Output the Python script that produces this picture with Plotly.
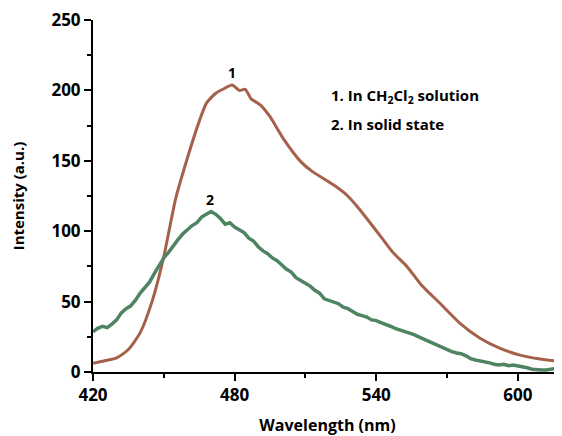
import plotly.graph_objects as go

# curve 1: in CH2Cl2 solution
wl_solution = [420, 425, 430, 435, 440, 445, 450, 455, 460, 465, 468, 472, 475,
               479, 482, 484.5, 487, 491, 495, 501, 508, 513, 522, 527.5, 532,
               536, 542, 547, 553, 559, 567, 575.5, 584, 592.5, 601, 609.4, 619]
int_solution = [6.2, 8, 10, 16, 28, 50, 82, 123, 152, 178, 190.8, 198, 200.8,
                203.8, 200, 200.8, 194, 189.6, 181.3, 164.8, 149.4, 142.3, 132.8, 125.7, 117.4,
                109, 96, 85, 75, 62, 48.8, 34.6, 24, 16.8, 12, 9.2, 7.3]

# curve 2: solid state
wl_solid = [420, 422, 424, 426, 428, 430, 432, 434, 436, 438, 440, 442, 444, 446,
            448, 450, 452, 454, 456, 458, 460, 462, 464, 466, 468, 470, 472, 474,
            476, 478, 480, 482, 484, 486, 488, 490, 492, 494, 496, 498, 500, 502,
            504, 506, 508, 510, 512, 514, 516, 518, 520, 522, 524, 526, 528, 530,
            532, 534, 536, 538, 540, 542, 544, 546, 548, 550, 552, 554, 556, 558,
            560, 562, 564, 566, 568, 570, 572, 574, 576, 578, 580, 582, 584, 586,
            588, 590, 592, 594, 596, 598, 600, 602, 604, 606, 608, 610, 612, 614,
            616, 619]
int_solid = [28.6, 31, 32.5, 31.5, 34, 37, 42, 45, 47, 51, 56, 60, 64, 70,
             76, 81, 85, 90, 94, 98, 101, 104, 106, 110, 112, 114, 112, 109,
             105, 106, 103, 101, 99, 95, 93, 89, 86, 84, 81, 79, 76, 73,
             71, 67, 65, 63, 61, 58, 56, 52, 51, 50, 48.5, 46, 45, 43,
             41, 40, 39, 37, 36.5, 35, 34, 32.5, 31, 30, 28.5, 27.5, 26.5, 25,
             23.5, 22, 20.5, 18.5, 17, 15.6, 14.5, 13.5, 13, 11.5, 9.5, 8.5, 8, 7.5,
             6.5, 5.5, 5, 5.5, 4.5, 5, 4.5, 3.5, 3, 2, 1.5, 1.5, 1.5, 2,
             2.5, 3.3]

FONT = "Open Sans"

fig = go.Figure()
fig.add_trace(go.Scatter(x=wl_solution, y=int_solution, mode="lines",
                         line=dict(color="#A6614A", width=3, shape="spline", smoothing=0.6)))
fig.add_trace(go.Scatter(x=wl_solid, y=int_solid, mode="lines",
                         line=dict(color="#4E8462", width=3.5)))

# curve labels
fig.add_annotation(x=479, y=204.5, text="1", showarrow=False, yanchor="bottom",
                   font=dict(family=FONT, size=14, color="black", weight="bold"))
fig.add_annotation(x=469.5, y=114, text="2", showarrow=False, yanchor="bottom",
                   font=dict(family=FONT, size=14, color="black", weight="bold"))

# legend text
fig.add_annotation(x=0.503, y=0.821, xref="paper", yref="paper", xanchor="left",
                   text="1. In CH<sub>2</sub>Cl<sub>2</sub> solution", showarrow=False,
                   font=dict(family=FONT, size=15, color="black", weight="bold"))
fig.add_annotation(x=0.503, y=0.739, xref="paper", yref="paper", xanchor="left",
                   text="2. In solid state", showarrow=False,
                   font=dict(family=FONT, size=15, color="black", weight="bold"))

axis_common = dict(showgrid=False, zeroline=False, showline=True, linecolor="black",
                   linewidth=2, ticks="outside", ticklen=7, tickwidth=2, tickcolor="black",
                   automargin=False, ticklabeloverflow="allow",
                   tickfont=dict(family=FONT, size=17, color="black", weight="bold"))

fig.update_xaxes(range=[420, 618.7], tickvals=[420, 480, 540, 600],
                 minor=dict(tickvals=[450, 510, 570], ticks="outside", ticklen=4,
                            tickwidth=2, tickcolor="black"),
                 title=dict(text="Wavelength (nm)", standoff=30,
                            font=dict(family=FONT, size=16, color="black", weight="bold")),
                 **axis_common)
fig.update_yaxes(range=[0, 250], tickvals=[0, 50, 100, 150, 200, 250],
                 minor=dict(tickvals=[25, 75, 125, 175, 225], ticks="outside", ticklen=4,
                            tickwidth=2, tickcolor="black"),
                 title=dict(text="Intensity (a.u.)", standoff=29,
                            font=dict(family=FONT, size=15, color="black", weight="bold")),
                 **axis_common)

# page body adds an 8px offset, so the figure is sized to fit the window
fig.update_layout(width=554, height=428, showlegend=False,
                  plot_bgcolor="white", paper_bgcolor="white",
                  margin=dict(l=85, r=0, t=12, b=64))

fig.write_html("out.html")
